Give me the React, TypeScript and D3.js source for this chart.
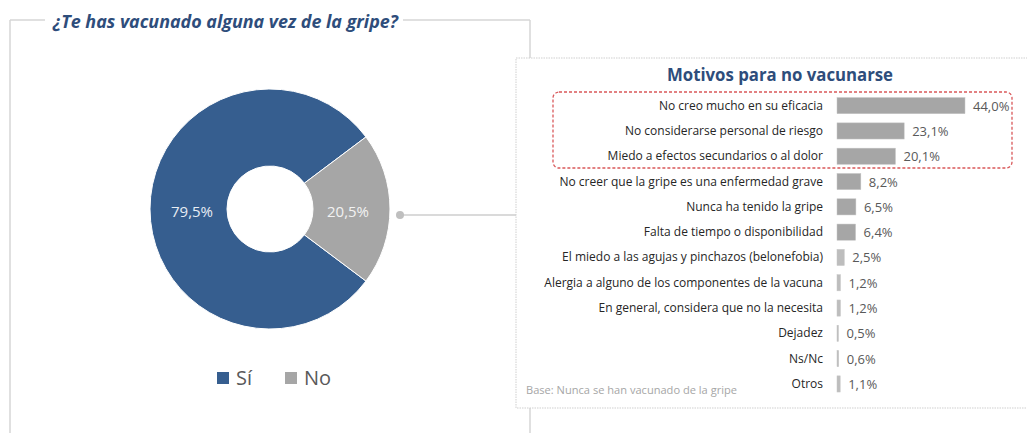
import React from "react";
import * as d3 from "d3";

const donutLabels = ["Sí", "No"];
const donutValues = [79.5, 20.5];
const donutColors = ["#365E8F", "#A6A6A6"];

const reasons = [
  "No creo mucho en su eficacia",
  "No considerarse personal de riesgo",
  "Miedo a efectos secundarios o al dolor",
  "No creer que la gripe es una enfermedad grave",
  "Nunca ha tenido la gripe",
  "Falta de tiempo o disponibilidad",
  "El miedo a las agujas y pinchazos (belonefobia)",
  "Alergia a alguno de los componentes de la vacuna",
  "En general, considera que no la necesita",
  "Dejadez",
  "Ns/Nc",
  "Otros",
];
const reasonValues = [44.0, 23.1, 20.1, 8.2, 6.5, 6.4, 2.5, 1.2, 1.2, 0.5, 0.6, 1.1];

const fmt = (v: number) => v.toFixed(1).replace(".", ",") + "%";

export default function App() {
  const W = 1027, H = 433;
  const cx = 270, cy = 209, R = 120, r0 = 43;
  const pie = d3.pie<number>().value((d) => d).sort(null).startAngle(126.9 * Math.PI / 180).endAngle(126.9 * Math.PI / 180 + 2 * Math.PI);
  const arcs = pie(donutValues);
  const arcGen = d3.arc<d3.PieArcDatum<number>>().innerRadius(r0).outerRadius(R);
  const labelArc = d3.arc<d3.PieArcDatum<number>>().innerRadius(78).outerRadius(78);

  const x = d3.scaleLinear().domain([0, 44]).range([837, 965]);
  const y = d3.scaleBand<number>().domain(d3.range(reasons.length)).range([93, 396.6]).paddingInner(0.36).paddingOuter(0.18);

  const font = "'Open Sans', sans-serif";
  return (
    <svg width={W} height={H} style={{ position: "absolute", left: 0, top: 0, background: "#fff" }} fontFamily={font}>
      {/* left panel frame */}
      <g stroke="#D6D6D6" strokeWidth={1.5} fill="none">
        <line x1={10} y1={20} x2={45} y2={20} />
        <line x1={403} y1={20} x2={530} y2={20} />
        <line x1={10} y1={20} x2={10} y2={433} />
        <line x1={530} y1={20} x2={530} y2={433} />
      </g>
      <text x={53} y={28} fontSize={17} fontWeight={700} fontStyle="italic" fill="#2E4D7B" textLength={345} lengthAdjust="spacingAndGlyphs">
        ¿Te has vacunado alguna vez de la gripe?
      </text>

      {/* donut */}
      <g transform={`translate(${cx},${cy})`}>
        {arcs.map((a, i) => (
          <path key={i} d={arcGen(a) || ""} fill={donutColors[i]} stroke="#fff" strokeWidth={1} />
        ))}
        {arcs.map((a, i) => {
          const [lx, ly] = labelArc.centroid(a);
          return (
            <text key={"l" + i} x={lx} y={ly + 8} textAnchor="middle" fontSize={15} fill={i === 0 ? "#E8EDF4" : "#F2F2F2"}>
              {fmt(donutValues[i])}
            </text>
          );
        })}
      </g>

      {/* connector */}
      <line x1={400} y1={215} x2={516} y2={215} stroke="#DADADA" strokeWidth={2} />
      <circle cx={400} cy={215} r={4} fill="#BFBFBF" />

      {/* legend */}
      {donutLabels.map((l, i) => (
        <g key={l} transform={`translate(${217 + i * 68},372)`}>
          <rect x={0} y={0} width={12} height={12} fill={donutColors[i]} />
          <text x={19} y={13} fontSize={20} fill="#595959">{l}</text>
        </g>
      ))}

      {/* right panel */}
      <rect x={516} y={58} width={520} height={350} fill="#fff" stroke="#CFCFCF" strokeWidth={1} strokeDasharray="1.5,1" />
      <text x={780} y={81} textAnchor="middle" fontSize={17} fontWeight={700} fill="#2E4D7B" textLength={226} lengthAdjust="spacingAndGlyphs">
        Motivos para no vacunarse
      </text>
      <rect x={553} y={92} width={459} height={76} rx={6} fill="none" stroke="#D9585A" strokeWidth={1.3} strokeDasharray="3,2" />

      {reasons.map((name, i) => {
        const yy = y(i)!;
        const bh = y.bandwidth();
        const v = reasonValues[i];
        return (
          <g key={name}>
            <text x={823} y={yy + bh / 2 + 4} textAnchor="end" fontSize={12} fill="#262626">{name}</text>
            <rect x={x(0)} y={yy} width={Math.max(1.5, x(v) - x(0))} height={bh} fill={v < 3 ? "#BDBDBD" : "#A6A6A6"} stroke="#C8C8C8" strokeWidth={0.5} />
            <text x={x(v) + 8} y={yy + bh / 2 + 5} fontSize={13} fill="#595959">{fmt(v)}</text>
          </g>
        );
      })}
      <text x={526} y={394} fontSize={10.5} fill="#A6A6A6" textLength={211} lengthAdjust="spacingAndGlyphs">
        Base: Nunca se han vacunado de la gripe
      </text>
    </svg>
  );
}
